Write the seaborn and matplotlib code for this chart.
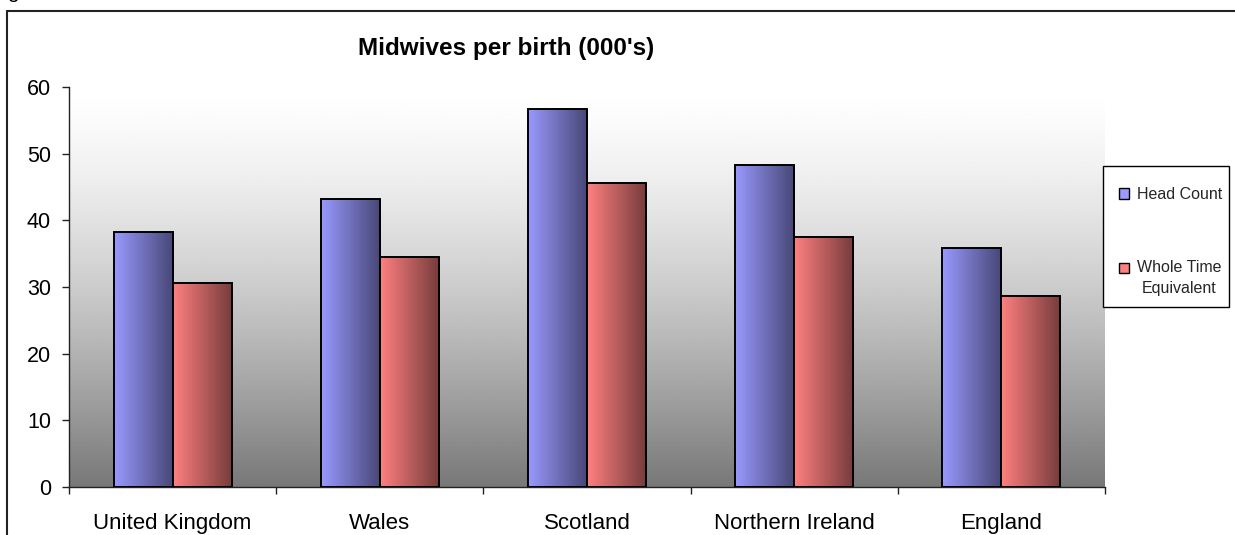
import numpy as np
import pandas as pd
import matplotlib
matplotlib.use("Agg")
import matplotlib.pyplot as plt
from matplotlib.patches import Patch, Rectangle
from matplotlib.lines import Line2D
from matplotlib.legend_handler import HandlerPatch
import seaborn as sns

# --- data -------------------------------------------------------------
regions = ["United Kingdom", "Wales", "Scotland", "Northern Ireland", "England"]
head_count = [38.2, 43.2, 56.7, 48.3, 35.8]
whole_time_equivalent = [30.6, 34.5, 45.6, 37.5, 28.6]
series_names = ["Head Count", "Whole Time Equivalent"]
legend_labels = ["Head Count", "Whole Time\nEquivalent"]
y_ticks = [0, 10, 20, 30, 40, 50, 60]
title = "Midwives per birth (000's)"

df = pd.DataFrame({
    "region": regions * 2,
    "value": head_count + whole_time_equivalent,
    "measure": [series_names[0]] * len(regions) + [series_names[1]] * len(regions),
})

# --- styling ----------------------------------------------------------
sns.set_theme(style="white")
plt.rcParams["font.family"] = ["Liberation Sans", "DejaVu Sans"]

light = {"Head Count": np.array([153, 153, 255]) / 255,
         "Whole Time Equivalent": np.array([255, 128, 128]) / 255}
dark_factor = 0.46

W, H = 1235, 535
fig = plt.figure(figsize=(W / 100, H / 100), dpi=100)
ax = fig.add_axes([69 / W, 1 - 487 / H, (1105 - 69) / W, (487 - 87) / H])

sns.barplot(data=df, x="region", y="value", hue="measure",
            palette=[light[s] for s in series_names], width=0.57,
            edgecolor="black", linewidth=1.4, saturation=1,
            legend=False, ax=ax)

xmax = len(regions) - 0.5

# vertical grey wash behind the bars
f = np.linspace(0, 1, 256) ** 1.4
shade = 1 - (1 - 0.47) * f
bg = np.repeat(shade[:, None], 2, axis=1)
ax.imshow(bg, cmap="gray", vmin=0, vmax=1, aspect="auto",
          extent=[-0.5, xmax, 0, 60], origin="upper",
          zorder=0, interpolation="bilinear")

# horizontal light-to-dark shading inside each bar
for i, patch in enumerate(ax.patches):
    series = series_names[i // len(regions)]
    c0 = light[series]
    c1 = c0 * dark_factor
    t = np.linspace(0, 1, 128)[None, :, None]
    grad = c0[None, None, :] * (1 - t) + c1[None, None, :] * t
    x0, w, h = patch.get_x(), patch.get_width(), patch.get_height()
    im = ax.imshow(grad, aspect="auto", extent=[x0, x0 + w, 0, h],
                   zorder=2, interpolation="bilinear")
    im.set_clip_path(patch)
    patch.set_facecolor("none")
    patch.set_zorder(3)

ax.set_xlim(-0.5, xmax)
ax.set_ylim(0, 60)

# axes, ticks and labels
for s in ["top", "right"]:
    ax.spines[s].set_visible(False)
for s in ["left", "bottom"]:
    ax.spines[s].set_color("#222222")
    ax.spines[s].set_linewidth(1.0)

ax.set_yticks(y_ticks)
ax.set_yticklabels([str(v) for v in y_ticks])
ax.tick_params(axis="y", direction="out", length=5, width=1.0, color="#222222",
               pad=8, labelsize=15.5, left=True, labelcolor="black")
ax.set_xticks(range(len(regions)))
ax.set_xticklabels(regions)
ax.tick_params(axis="x", which="major", length=0, pad=19, labelsize=16,
               labelcolor="black")
ax.set_xticks(np.arange(-0.5, len(regions), 1.0), minor=True)
ax.tick_params(axis="x", which="minor", direction="out", length=5, width=1.0,
               color="#222222", bottom=True)
ax.set_xlabel("")
ax.set_ylabel("")

fig.text(506 / W, 1 - 48 / H, title, ha="center", va="center",
         fontsize=17.5, fontweight="bold", color="black")


# legend: square swatches, the second one level with the first text line
def swatch(offset):
    def make(legend, orig_handle, xdescent, ydescent, width, height, fontsize):
        return Rectangle((-xdescent, -ydescent + offset), width, height)
    return HandlerPatch(patch_func=make)


handles = [Patch(facecolor=light[s], edgecolor="black", linewidth=1.0)
           for s in series_names]
leg = fig.legend(handles, legend_labels, loc="upper left",
                 bbox_to_anchor=(1119 / W, 1 - 187 / H),
                 fontsize=11.5, frameon=False, handlelength=0.62,
                 handleheight=0.62, handletextpad=0.5, labelspacing=3.65,
                 borderpad=0, borderaxespad=0,
                 handler_map={handles[0]: swatch(0), handles[1]: swatch(7.5)})
for txt in leg.get_texts():
    txt.set_multialignment("center")
    txt.set_linespacing(1.45)

# legend frame
fig.add_artist(Rectangle((1103 / W, 1 - 307 / H), (1229 - 1103) / W, (307 - 166) / H,
                         transform=fig.transFigure, facecolor="white",
                         edgecolor="black", lw=1.0, zorder=4))

# outer frame lines and clipped heading letter
fig.add_artist(Line2D([7 / W, 1.0], [1 - 11 / H, 1 - 11 / H],
                      transform=fig.transFigure, color="#222222", lw=1.5))
fig.add_artist(Line2D([7 / W, 7 / W], [0.0, 1 - 11 / H],
                      transform=fig.transFigure, color="#222222", lw=1.5))
fig.text(7 / W, 1 + 1.5 / H, "g", ha="left", va="baseline",
         fontsize=15, color="black")

fig.savefig("out.png", dpi=100)
